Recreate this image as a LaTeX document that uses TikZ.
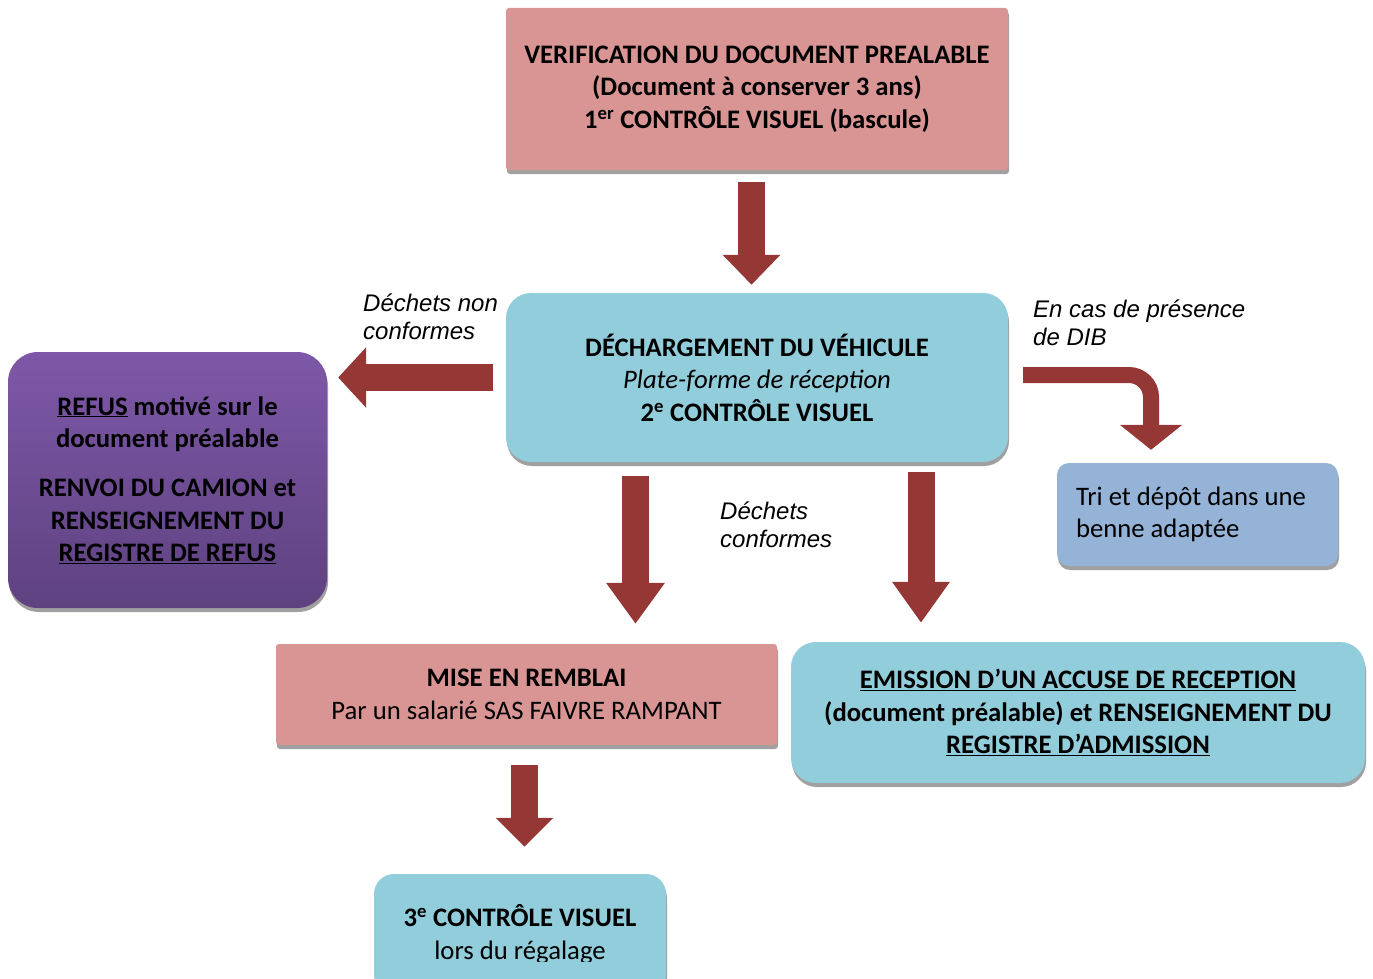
\documentclass[tikz,border=0pt]{standalone}
\usepackage{fontspec}
\setmainfont{Carlito}
\newfontfamily\arialf{Liberation Sans}
\usetikzlibrary{arrows.meta,shadows}
\definecolor{pinkbox}{RGB}{217,149,148}
\definecolor{bluebox}{RGB}{146,205,220}
\definecolor{tribox}{RGB}{149,179,215}
\definecolor{arrowred}{RGB}{149,55,53}
\definecolor{purtop}{RGB}{126,88,168}
\definecolor{purbot}{RGB}{94,66,128}
\definecolor{shadowgray}{RGB}{160,160,160}
\begin{document}
\begin{tikzpicture}[x=1pt,y=-1pt,
  box/.style={draw=none, align=center, inner sep=0pt,
    font=\fontsize{26.7}{32.5}\selectfont,
    drop shadow={shadow xshift=1pt,shadow yshift=-4pt,fill=shadowgray,opacity=1}},
  blockarrow/.style={draw=arrowred, line width=27pt},
  lbl/.style={font=\arialf\itshape\fontsize{24}{28}\selectfont, align=left, anchor=west, inner sep=0pt}
]
\useasboundingbox (0,0) rectangle (1373,979);

% boxes
\node[box, fill=pinkbox, rounded corners=3pt, minimum width=502pt, minimum height=162pt] (top) at (757,89)
  {\bfseries VERIFICATION DU DOCUMENT PREALABLE\\ \bfseries (Document à conserver 3 ans)\\ \bfseries 1\textsuperscript{er} CONTRÔLE VISUEL (bascule)};

\node[box, fill=bluebox, rounded corners=25pt, minimum width=502pt, minimum height=169pt] (mid) at (757,377.5)
  {\bfseries DÉCHARGEMENT DU VÉHICULE\\ \itshape Plate-forme de réception\\ \bfseries 2\textsuperscript{e} CONTRÔLE VISUEL};

\node[box, top color=purtop, bottom color=purbot, rounded corners=30pt, minimum width=319pt, minimum height=256pt] (refus) at (167.5,480)
  {\bfseries \underline{REFUS} motivé sur le\\ \bfseries document préalable\\[16.5pt] \bfseries RENVOI DU CAMION et\\ \bfseries RENSEIGNEMENT DU\\ \bfseries \underline{REGISTRE DE REFUS}};

\node[box, fill=tribox, rounded corners=12pt, minimum width=281pt, minimum height=103pt, text width=243pt, align=flush left] (tri) at (1197.5,514.5)
  {Tri et dépôt dans une\\ benne adaptée};

\node[box, fill=pinkbox, rounded corners=3pt, minimum width=501pt, minimum height=101pt] (mise) at (526.5,694.5)
  {\bfseries MISE EN REMBLAI\\ Par un salarié SAS FAIVRE RAMPANT};

\node[box, fill=bluebox, rounded corners=25pt, minimum width=574pt, minimum height=141pt] (emis) at (1078,712.5)
  {\bfseries \underline{EMISSION D’UN ACCUSE DE RECEPTION}\\ \bfseries (document préalable) et RENSEIGNEMENT DU\\ \bfseries \underline{REGISTRE D’ADMISSION}};

\node[box, fill=bluebox, rounded corners=20pt, minimum width=292pt, minimum height=121pt] (c3) at (520,934.5) {};
\begin{scope}
  \clip (374,874) rectangle (666,961);
  \node[align=center, inner sep=0pt, font=\fontsize{26.7}{32.5}\selectfont] (c3t) at (c3.center)
    {\bfseries 3\textsuperscript{e} CONTRÔLE VISUEL\\ lors du régalage};
\end{scope}

% labels
\node[lbl] (l1) at (363,317) {Déchets non\\conformes};
\node[lbl] (l2) at (1033,323) {En cas de présence\\de DIB};
\node[lbl] (l3) at (720,524.5) {Déchets\\conformes};

% block arrows
\draw[blockarrow, -{Triangle[length=30pt,width=56pt]}]
  ([xshift=-5.5pt,yshift=-12pt]top.south) -- ([xshift=-5.5pt,yshift=8pt]mid.north);
\draw[blockarrow, -{Triangle[length=28pt,width=59pt]}]
  ([xshift=-13pt]mid.west) -- ([xshift=11pt]mid.west -| refus.east);
\draw[blockarrow, -{Triangle[length=41pt,width=56pt]}]
  ([xshift=-121.5pt,yshift=-14pt]mid.south) -- ([xshift=109pt,yshift=20pt]mise.north);
\draw[blockarrow, -{Triangle[length=41pt,width=55pt]}]
  ([xshift=164pt,yshift=-10pt]mid.south) -- ([xshift=-157pt,yshift=19pt]emis.north);
\draw[blockarrow, -{Triangle[length=29pt,width=56pt]}]
  ([xshift=-2pt,yshift=-20pt]mise.south) -- ([xshift=4.5pt,yshift=27pt]c3.north);
\draw[blockarrow, line width=16pt, rounded corners=22pt, -{Triangle[length=25pt,width=61pt]}]
  ([xshift=15pt,yshift=2.5pt]mid.east) -| ([xshift=-46.5pt,yshift=13pt]tri.north);
\end{tikzpicture}
\end{document}
